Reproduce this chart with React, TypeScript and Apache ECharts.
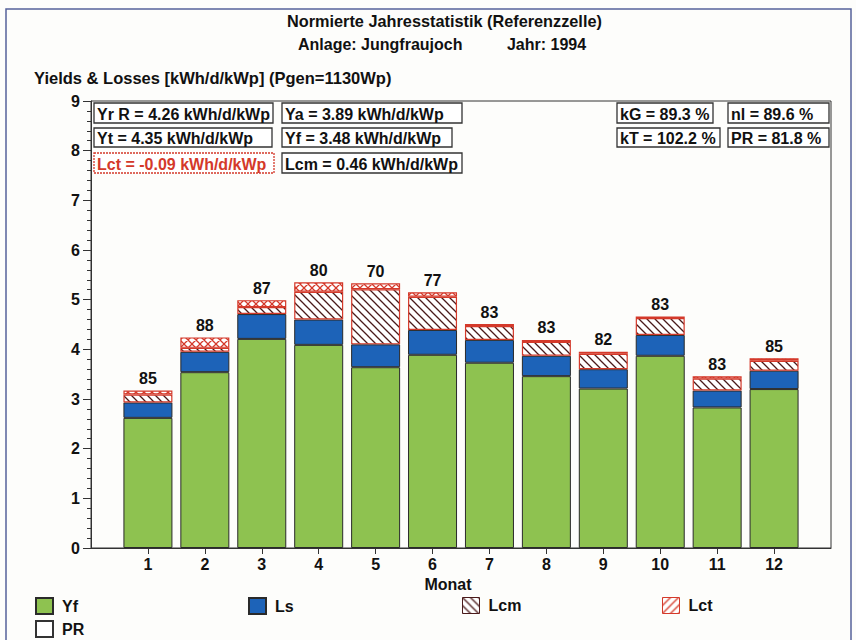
import React, { useEffect, useRef } from "react";
import * as echarts from "echarts";

// ---- data ----
const months = ["1", "2", "3", "4", "5", "6", "7", "8", "9", "10", "11", "12"];
const prValues = [85, 88, 87, 80, 70, 77, 83, 83, 82, 83, 83, 85];
const yfValues = [2.62, 3.54, 4.21, 4.09, 3.64, 3.89, 3.73, 3.46, 3.21, 3.87, 2.83, 3.2];
const lsValues = [0.31, 0.41, 0.5, 0.51, 0.46, 0.5, 0.46, 0.41, 0.39, 0.42, 0.34, 0.37];
const lcmValues = [0.24, 0.29, 0.28, 0.75, 1.23, 0.76, 0.32, 0.32, 0.35, 0.37, 0.29, 0.25];
const lctValues = [-0.08, -0.21, -0.14, -0.19, -0.12, -0.09, -0.04, -0.04, -0.04, -0.03, -0.05, -0.05];

const titleLine1 = "Normierte Jahresstatistik (Referenzzelle)";
const titleLine2 = "Anlage: Jungfraujoch          Jahr: 1994";
const yAxisTitle = "Yields & Losses [kWh/d/kWp] (Pgen=1130Wp)";
const xAxisTitle = "Monat";

const statTexts = [
  "Yr R = 4.26 kWh/d/kWp",
  "Ya = 3.89 kWh/d/kWp",
  "Yt = 4.35 kWh/d/kWp",
  "Yf = 3.48 kWh/d/kWp",
  "Lct = -0.09 kWh/d/kWp",
  "Lcm = 0.46 kWh/d/kWp",
  "kG = 89.3 %",
  "nl = 89.6 %",
  "kT = 102.2 %",
  "PR = 81.8 %",
];

// layout of the statistic boxes [x0, y0, x1, y1, red]
const statBoxes: [number, number, number, number, boolean][] = [
  [94, 103, 273, 123, false],
  [282, 103, 462, 123, false],
  [94, 128, 272, 147, false],
  [282, 128, 452, 147, false],
  [94, 153, 274, 173, true],
  [282, 153, 462, 173, false],
  [617, 103, 713, 123, false],
  [728, 103, 829, 123, false],
  [617, 128, 720, 147, false],
  [728, 128, 829, 147, false],
];

const FONT = "Liberation Sans, Arial, sans-serif";
const GREEN = "#8ec250";
const BLUE = "#1d63b8";
const RED = "#d4392a";
const DARKRED = "#4a1a1a";
const EDGE = "#2a2a2a";

function makeHatch(kind: "back" | "fwd" | "cross", color: string) {
  const s = 8;
  const c = document.createElement("canvas");
  c.width = s;
  c.height = s;
  const ctx = c.getContext("2d")!;
  ctx.fillStyle = "#ffffff";
  ctx.fillRect(0, 0, s, s);
  ctx.strokeStyle = color;
  ctx.lineWidth = 1.3;
  ctx.beginPath();
  if (kind === "back" || kind === "cross") {
    ctx.moveTo(-2, -2); ctx.lineTo(s + 2, s + 2);
    ctx.moveTo(-2, s - 2); ctx.lineTo(2, s + 2);
    ctx.moveTo(s - 2, -2); ctx.lineTo(s + 2, 2);
  }
  if (kind === "fwd" || kind === "cross") {
    ctx.moveTo(-2, s + 2); ctx.lineTo(s + 2, -2);
    ctx.moveTo(-2, 2); ctx.lineTo(2, -2);
    ctx.moveTo(s - 2, s + 2); ctx.lineTo(s + 2, s - 2);
  }
  ctx.stroke();
  return { image: c, repeat: "repeat", imageWidth: s, imageHeight: s } as any;
}

export default function App() {
  const ref = useRef<HTMLDivElement>(null);

  useEffect(() => {
    if (!ref.current) return;
    const chart = echarts.init(ref.current, null, { renderer: "svg" });

    const lcmPattern = makeHatch("back", DARKRED);
    const lctBandPattern = makeHatch("cross", RED);
    const lctLegendPattern = makeHatch("fwd", RED);

    // category axis with an empty slot at each end (boundaryGap false)
    const cats = ["", ...months, " "];
    const pad = (vals: number[]) => [null, ...vals.map((v) => +v.toFixed(3)), null];
    const lcmVisible = lcmValues.map((v, i) => v + lctValues[i]);
    const lctBand = lctValues.map((v) => -v);
    const inMonths = (idx: number) => idx >= 1 && idx <= months.length;

    const textBase = { fontFamily: FONT, fontSize: 16, color: "#111", fontWeight: "bold" };

    const graphics: any[] = [
      {
        type: "rect",
        shape: { x: 6, y: 9, width: 845, height: 660 },
        style: { fill: "none", stroke: "#56629a", lineWidth: 1.5 },
        silent: true,
        z: 100,
      },
      {
        type: "text",
        x: 34,
        y: 78,
        style: {
          text: yAxisTitle,
          fontFamily: FONT,
          fontSize: 16.5,
          fontWeight: "bold",
          fill: "#111",
          verticalAlign: "middle",
        },
      },
    ];
    statTexts.forEach((t, i) => {
      const [x0, y0, x1, y1, red] = statBoxes[i];
      graphics.push({
        type: "group",
        z: 10,
        children: [
          {
            type: "rect",
            shape: { x: x0, y: y0, width: x1 - x0, height: y1 - y0 },
            style: {
              fill: "#ffffff",
              stroke: red ? RED : "#333",
              lineWidth: 1.3,
              lineDash: red ? [2, 1] : null,
            },
          },
          {
            type: "text",
            x: x0 + 3,
            y: (y0 + y1) / 2 + 1,
            style: {
              text: t,
              fontFamily: FONT,
              fontSize: 16,
              fontWeight: "bold",
              fill: red ? RED : "#111",
              verticalAlign: "middle",
            },
          },
        ],
      });
    });

    const legendPos: [string, number, number][] = [
      ["Yf", 35, 597],
      ["Ls", 248, 597],
      ["Lcm", 462, 597],
      ["Lct", 662, 597],
      ["PR", 35, 620],
    ];

    const option: any = {
      animation: false,
      backgroundColor: "#fdfdfb",
      textStyle: { fontFamily: FONT },
      title: [
        { text: titleLine1, left: 287, top: 13, padding: 0, textStyle: { ...textBase, fontSize: 16.3 } },
        { text: titleLine2, left: 298, top: 36, padding: 0, textStyle: { ...textBase, fontSize: 16 } },
      ],
      grid: {
        left: 91,
        right: 25,
        top: 101,
        bottom: 92,
        show: true,
        borderColor: "#333",
        borderWidth: 1,
        backgroundColor: "transparent",
      },
      xAxis: {
        type: "category",
        data: cats,
        boundaryGap: false,
        name: xAxisTitle,
        nameLocation: "middle",
        nameGap: 27,
        nameTextStyle: { ...textBase, padding: [0, 26, 0, 0] },
        axisLine: { lineStyle: { color: "#333" } },
        axisTick: {
          length: 6,
          lineStyle: { color: "#333" },
          interval: (idx: number) => inMonths(idx),
        },
        axisLabel: {
          ...textBase,
          margin: 8,
          interval: (idx: number) => inMonths(idx),
        },
        splitLine: { show: false },
      },
      yAxis: {
        type: "value",
        min: 0,
        max: 9,
        interval: 1,
        axisLine: { show: true, lineStyle: { color: "#333" } },
        axisTick: { show: true, length: 8, lineStyle: { color: "#333" } },
        minorTick: { show: true, splitNumber: 5, length: 4, lineStyle: { color: "#333" } },
        axisLabel: { ...textBase, margin: 11 },
        splitLine: { show: false },
      },
      legend: legendPos.map(([name, left, top]) => ({
        left,
        top,
        padding: 0,
        icon: "rect",
        itemWidth: 17,
        itemHeight: 16,
        selectedMode: false,
        textStyle: { ...textBase, padding: [0, 0, 0, 4] },
        data: [
          name === "Lct"
            ? { name, itemStyle: { color: lctLegendPattern, borderColor: RED, borderWidth: 1 } }
            : name === "Lcm"
            ? { name, itemStyle: { color: lcmPattern, borderColor: DARKRED, borderWidth: 1 } }
            : { name },
        ],
      })),
      graphic: graphics,
      series: [
        {
          name: "Yf",
          type: "bar",
          stack: "t",
          barWidth: 49,
          data: pad(yfValues),
          itemStyle: { color: GREEN, borderColor: EDGE, borderWidth: 1 },
        },
        {
          name: "Ls",
          type: "bar",
          stack: "t",
          barWidth: 49,
          data: pad(lsValues),
          itemStyle: { color: BLUE, borderColor: EDGE, borderWidth: 1 },
        },
        {
          name: "Lcm",
          type: "bar",
          stack: "t",
          barWidth: 49,
          data: pad(lcmVisible),
          itemStyle: { color: lcmPattern, borderColor: RED, borderWidth: 1.2 },
        },
        {
          name: "Lct",
          type: "bar",
          stack: "t",
          barWidth: 49,
          data: pad(lctBand),
          itemStyle: { color: lctBandPattern, borderColor: RED, borderWidth: 1.2 },
          label: {
            show: true,
            position: "top",
            distance: 4,
            ...textBase,
            formatter: (p: any) => String(prValues[p.dataIndex - 1]),
          },
        },
        {
          name: "PR",
          type: "bar",
          stack: "t",
          barWidth: 49,
          data: [],
          itemStyle: { color: "#ffffff", borderColor: "#333", borderWidth: 1 },
        },
      ],
    };

    chart.setOption(option);
    return () => chart.dispose();
  }, []);

  return (
    <div
      ref={ref}
      style={{ position: "fixed", left: 0, top: 0, width: 856, height: 640 }}
    />
  );
}
